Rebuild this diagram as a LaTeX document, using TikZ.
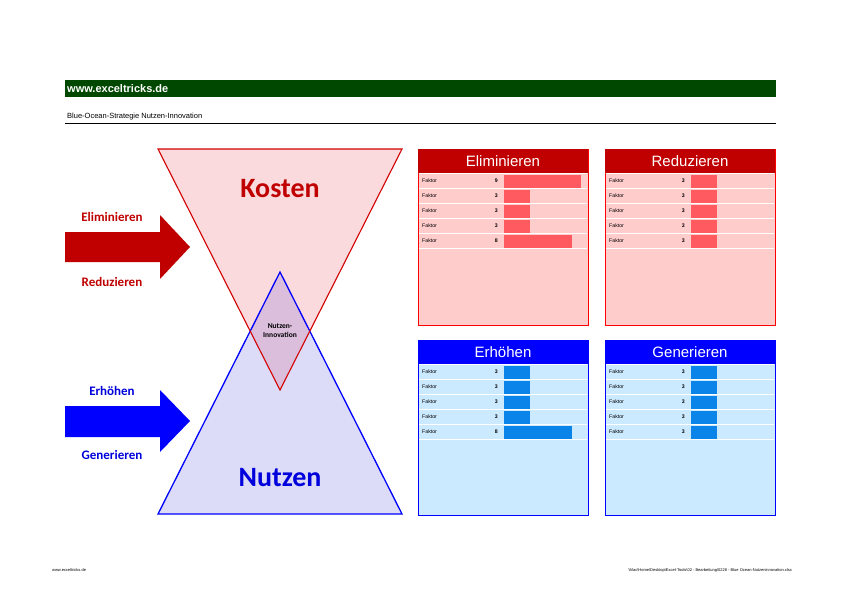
\documentclass[tikz,border=0pt]{standalone}
\usepackage{fontspec}
\setmainfont{Liberation Sans}
\newfontfamily\calfont{Carlito}
\definecolor{hgreen}{RGB}{0,72,0}
\definecolor{dred}{RGB}{192,0,0}
\definecolor{tred}{RGB}{210,0,0}
\definecolor{dblue}{RGB}{0,0,220}
\definecolor{pinkf}{RGB}{250,218,220}
\definecolor{lavf}{RGB}{220,220,248}
\definecolor{purpf}{RGB}{218,190,220}
\definecolor{rpan}{RGB}{255,204,204}
\definecolor{bpan}{RGB}{204,234,255}
\definecolor{rbar}{RGB}{255,90,95}
\definecolor{bbar}{RGB}{10,132,232}
\begin{document}
\begin{tikzpicture}[x=1pt,y=-1pt,
  lbl/.style={font=\calfont\bfseries\fontsize{13}{14}\selectfont},
  fak/.style={font=\fontsize{5.2}{6}\selectfont,anchor=west,inner sep=0},
  num/.style={font=\bfseries\fontsize{5.2}{6}\selectfont,anchor=east,inner sep=0},
  hdr/.style={font=\fontsize{15}{16}\selectfont,text=white}]
\useasboundingbox (0,0) rectangle (842,595);
\fill[white] (0,0) rectangle (842,595);
% header
\fill[hgreen] (65,80) rectangle (776,97);
\node[anchor=west,text=white,font=\bfseries\fontsize{11}{12}\selectfont,inner sep=0] (web) at (67,89) {www.exceltricks.de};
\node[anchor=west,font=\fontsize{7.5}{8}\selectfont,inner sep=0] (ttl) at (67,117) {Blue-Ocean-Strategie Nutzen-Innovation};
\draw[line width=0.6pt] (65,123) -- (776,123);
% triangles
\fill[pinkf] (158,149) -- (402,149) -- (280,390) -- cycle;
\fill[lavf] (158,514) -- (402,514) -- (280,272) -- cycle;
\begin{scope}
\clip (158,149) -- (402,149) -- (280,390) -- cycle;
\fill[purpf] (158,514) -- (402,514) -- (280,272) -- cycle;
\end{scope}
\draw[blue,line width=1.3pt,line join=miter] (158,514) -- (402,514) -- (280,272) -- cycle;
\draw[tred,line width=1.1pt] (158,149) -- (402,149) -- (280,390) -- cycle;
\node[font=\calfont\bfseries\fontsize{28}{30}\selectfont,text=dred] (kosten) at (280,189) {Kosten};
\node[font=\calfont\bfseries\fontsize{28}{30}\selectfont,text=dblue] (nutzen) at (280,478) {Nutzen};
\node[font=\calfont\bfseries\fontsize{7.5}{9}\selectfont,align=center] (ni) at (280,331) {Nutzen-\\Innovation};
% arrows
\fill[dred] (65,232) -- (160,232) -- (160,215) -- (190,247) -- (160,279) -- (160,262) -- (65,262) -- cycle;
\fill[blue] (65,406) -- (160,406) -- (160,390) -- (190,421) -- (160,452) -- (160,437) -- (65,437) -- cycle;
\node[lbl,text=dred] (el) at (112,217) {Eliminieren};
\node[lbl,text=dred] (re) at (112,282) {Reduzieren};
\node[lbl,text=dblue] (er) at (112,391) {Erhöhen};
\node[lbl,text=dblue] (ge) at (112,455) {Generieren};
% panels
\def\mypanel#1#2#3#4#5#6#7#8#9{%
 \fill[#4] (#1,#2) rectangle (#1+170,#3);
 \foreach \k in {0,...,5}{\draw[white,line width=0.5pt] (#1+1,#2+24.5+15*\k) -- (#1+169,#2+24.5+15*\k);}
 \draw[#6,line width=0.8pt] (#1,#2) rectangle (#1+170,#3);
 \fill[#5] (#1,#2) rectangle (#1+170,#2+24);
 \node[hdr] at (#1+85,#2+12.5) {#7};
 \foreach \v [count=\i from 0] in {#9}{
   \node[fak] at (#1+4,#2+32+15*\i-0.3) {Faktor};
   \node[num] at (#1+80,#2+32+15*\i-0.3) {\v};
   \fill[#8] (#1+86,#2+32+15*\i-6.5) rectangle (#1+86+8.5*\v,#2+32+15*\i+6.5);
 }}
\mypanel{418}{149}{325}{rpan}{dred}{red}{Eliminieren}{rbar}{9,3,3,3,8}
\mypanel{605}{149}{325}{rpan}{dred}{red}{Reduzieren}{rbar}{3,3,3,3,3}
\mypanel{418}{340}{515}{bpan}{blue}{blue}{Erhöhen}{bbar}{3,3,3,3,8}
\mypanel{605}{340}{515}{bpan}{blue}{blue}{Generieren}{bbar}{3,3,3,3,3}
% footer
\node[anchor=west,font=\fontsize{4}{5}\selectfont,inner sep=0] (f1) at (52,570) {www.exceltricks.de};
\node[anchor=east,font=\fontsize{4}{5}\selectfont,inner sep=0] (f2) at (792,570) {\textbackslash Mac\textbackslash Home\textbackslash Desktop\textbackslash Excel-Tools\textbackslash 02 - Bearbeitung\textbackslash 0228 - Blue Ocean-Nutzeninnovation.xlsx};
\end{tikzpicture}
\end{document}
